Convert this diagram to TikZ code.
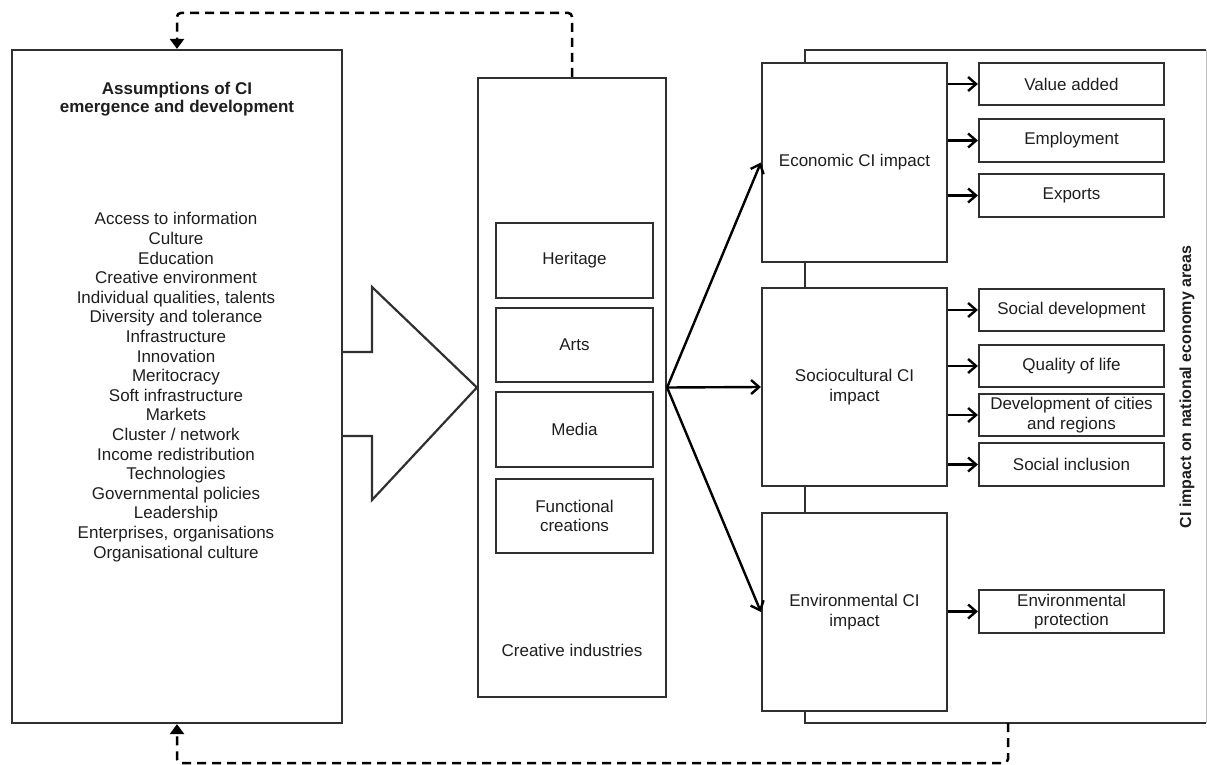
\documentclass[tikz,border=0pt]{standalone}
\usepackage{fontspec}
\setmainfont{Liberation Sans}
\usetikzlibrary{arrows.meta}
\definecolor{boxline}{HTML}{303030}
\definecolor{txt}{HTML}{1E1E1E}
\begin{document}
\begin{tikzpicture}[x=1pt,y=-1pt,
  every node/.style={text=txt},
  box/.style={draw=boxline, line width=2.2pt, inner sep=0pt, align=center,
    font=\fontsize{17}{19.5}\selectfont},
  plain/.style={inner sep=0pt, align=center, font=\fontsize{17}{19.6}\selectfont},
  arr/.style={draw=black, line width=2.4pt, -{Straight Barb[length=8pt,width=14pt,line width=2.4pt]}},
  fb/.style={draw=black, line width=2.5pt, dash pattern=on 9pt off 6pt, rounded corners=4pt,
    -{Triangle[length=10pt,width=14pt]}}
]
\useasboundingbox (0,0) rectangle (1207,765);

% background area of impacts
\node[inner sep=0pt, minimum width=401pt, minimum height=673pt] (area) at (1005.5,386.5) {};
\draw[boxline, line width=2.2pt] (area.north east) -- (area.north west) -- (area.south west) -- (area.south east);
\draw[black!25, line width=1pt] (area.north east) -- (area.south east);

% left box
\node[box, minimum width=330pt, minimum height=673pt] (assump) at (177,386.5) {};
\node[plain, font=\bfseries\fontsize{17}{18.5}\selectfont] (title) at (177,99) {Assumptions of CI\\emergence and development};
\node[plain] (list) at (176,387) {Access to information\\Culture\\Education\\Creative environment\\Individual qualities, talents\\Diversity and tolerance\\Infrastructure\\Innovation\\Meritocracy\\Soft infrastructure\\Markets\\Cluster / network\\Income redistribution\\Technologies\\Governmental policies\\Leadership\\Enterprises, organisations\\Organisational culture};

% middle box
\node[box, minimum width=188pt, minimum height=619pt] (mid) at (572,387.5) {};
\node[box, line width=1.8pt, minimum width=157pt, minimum height=75pt] (heritage) at (574.5,260.5) {Heritage};
\node[box, line width=1.8pt, minimum width=157pt, minimum height=74pt] (arts) at (574.5,345) {Arts};
\node[box, line width=1.8pt, minimum width=157pt, minimum height=75pt] (media) at (574.5,429.5) {Media};
\node[box, line width=1.8pt, minimum width=157pt, minimum height=74pt] (func) at (574.5,516) {Functional\\creations};
\node[plain] (cilabel) at (572,650) {Creative industries};

% big arrow
\draw[boxline, line width=2.2pt, line join=miter] (assump.east |- 0,352) -- (372,352) -- (372,287) -- (mid.west) -- (372,500) -- (372,436) -- (assump.east |- 0,436);

% impact boxes
\node[box, fill=white, minimum width=185pt, minimum height=199pt] (eco) at (854.5,162.5) {Economic CI impact};
\node[box, fill=white, minimum width=185pt, minimum height=198pt] (soc) at (854.5,387) {Sociocultural CI\\impact};
\node[box, fill=white, minimum width=185pt, minimum height=198pt] (env) at (854.5,612) {Environmental CI\\impact};

% outcome boxes
\node[box, minimum width=185pt, minimum height=42pt] (va) at (1071.5,84) {Value added};
\node[box, minimum width=185pt, minimum height=43pt] (emp) at (1071.5,140.5) {Employment};
\node[box, minimum width=185pt, minimum height=43pt] (exp) at (1071.5,195.5) {Exports};
\node[box, minimum width=185pt, minimum height=42pt] (sd) at (1071.5,310) {Social development};
\node[box, minimum width=185pt, minimum height=42pt] (ql) at (1071.5,366) {Quality of life};
\node[box, minimum width=185pt, minimum height=42pt] (dc) at (1071.5,415) {Development of cities\\and regions};
\node[box, minimum width=185pt, minimum height=43pt] (si) at (1071.5,464.5) {Social inclusion};
\node[box, minimum width=185pt, minimum height=43pt] (ep) at (1071.5,611.5) {Environmental\\protection};

% rotated label
\node[plain, rotate=90, font=\bfseries\fontsize{16}{18}\selectfont] (arealabel) at (1187,387) {CI impact on national economy areas};

% arrows from creative industries
\draw[arr] (mid.east) -- (eco.west);
\draw[arr] (mid.east) -- (soc.west);
\draw[arr] (mid.east) -- (env.west);

% arrows to outcomes
\draw[arr] (eco.east |- va.west) -- (va.west);
\draw[arr] (eco.east |- emp.west) -- (emp.west);
\draw[arr] (eco.east |- exp.west) -- (exp.west);
\draw[arr] (soc.east |- sd.west) -- (sd.west);
\draw[arr] (soc.east |- ql.west) -- (ql.west);
\draw[arr] (soc.east |- dc.west) -- (dc.west);
\draw[arr] (soc.east |- si.west) -- (si.west);
\draw[arr] (env.east |- ep.west) -- (ep.west);

% feedback loops
\draw[fb] (mid.north) -- ++(0,-64) -| (assump.north);
\coordinate (fbstart) at (1008,723);
\draw[fb] (fbstart) -- ++(0,40) -| (assump.south);
\end{tikzpicture}
\end{document}
